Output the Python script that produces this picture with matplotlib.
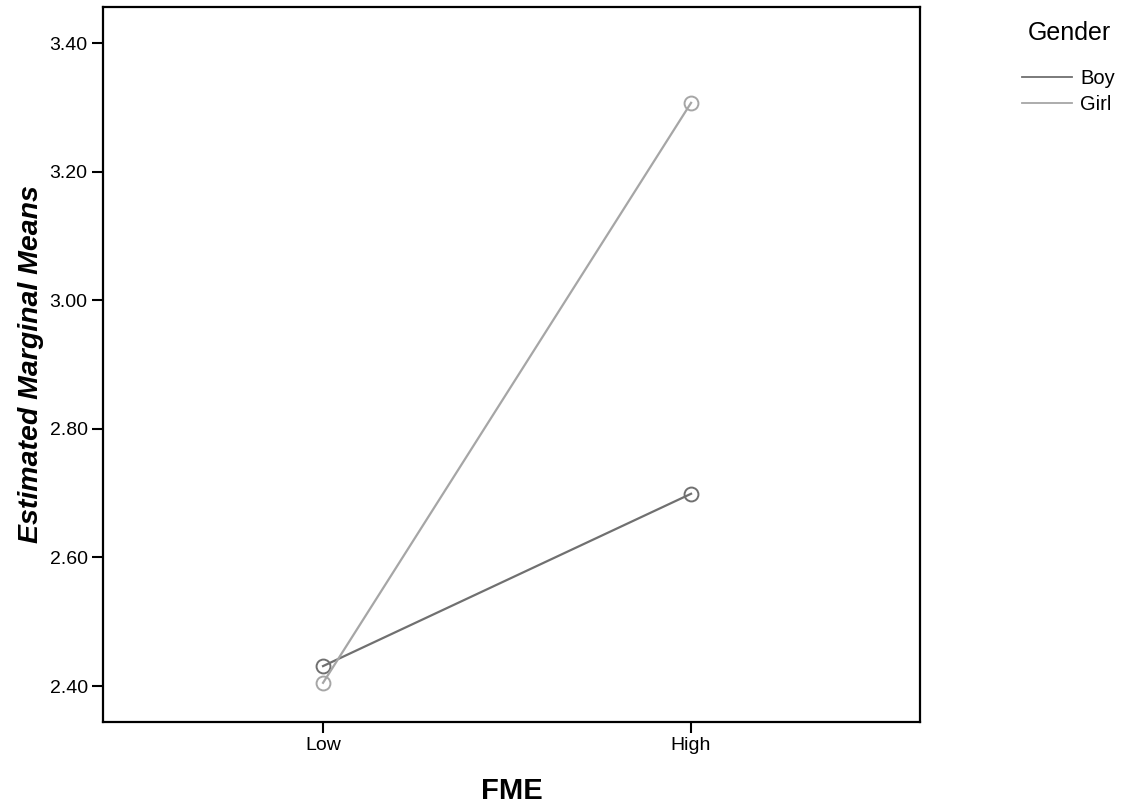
import matplotlib
matplotlib.use("Agg")
import matplotlib.pyplot as plt

plt.rcParams['font.family'] = ['Liberation Sans', 'DejaVu Sans']

categories = ["Low", "High"]
series_names = ["Boy", "Girl"]
boy_means = [2.431, 2.699]
girl_means = [2.405, 3.307]
y_ticks = [2.40, 2.60, 2.80, 3.00, 3.20, 3.40]
colors = {"Boy": "#707070", "Girl": "#a6a6a6"}

fig = plt.figure(figsize=(11.23, 8.08), dpi=100)
ax = fig.add_axes([0.0917, 0.1064, 0.7275, 0.8849])

x = list(range(len(categories)))
for name, vals in zip(series_names, [boy_means, girl_means]):
    ax.plot(x, vals, color=colors[name], lw=1.6, marker='o', markersize=10,
            markerfacecolor='none', markeredgecolor=colors[name], markeredgewidth=1.4,
            label=name)

ax.set_xlim(-0.598, 1.622)
ax.set_ylim(2.344, 3.456)
ax.set_xticks(x)
ax.set_xticklabels(categories)
ax.set_yticks(y_ticks)
ax.set_yticklabels([f"{v:.2f}" for v in y_ticks])
ax.tick_params(axis='both', direction='out', length=8, width=1.5, labelsize=14, pad=3)
for s in ax.spines.values():
    s.set_linewidth(1.6)
    s.set_color('black')

ax.set_xlabel("FME", fontsize=21, fontweight='bold', labelpad=16)
ax.set_ylabel("Estimated Marginal Means", fontsize=20.5, fontweight='bold',
              fontstyle='italic', labelpad=4)

leg = fig.legend(loc='upper left', bbox_to_anchor=(1022/1123, 1 - 69/808), frameon=False,
                 fontsize=14.5, handlelength=2.5, handletextpad=0.4, labelspacing=0.33,
                 borderpad=0, borderaxespad=0)
for h in leg.legend_handles:
    h.set_marker('')
    h.set_linewidth(1.3)
fig.text(1028/1123, 1 - 33/808, "Gender", fontsize=18, ha='left', va='center')

fig.savefig("out.png", dpi=100)
